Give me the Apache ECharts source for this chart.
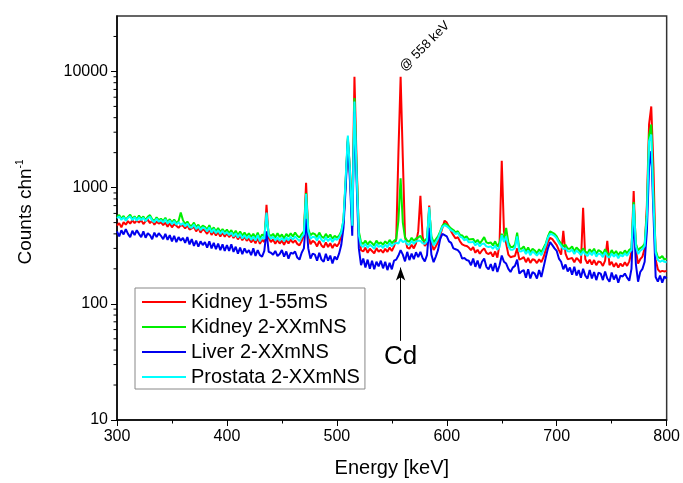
<!DOCTYPE html>
<html>
<head>
<meta charset="utf-8">
<script src="https://cdn.jsdelivr.net/npm/echarts@6/dist/echarts.min.js"></script>
<style>html,body{margin:0;padding:0;background:#fff}#c{width:683px;height:483px}</style>
</head>
<body>
<div id="c"></div>
<script>
// Spectrum channels: 300 keV start, 2 keV per channel
const energyStart = 300;
const channelWidth = 2;

const seriesNames = ['Kidney 1-55mS', 'Kidney 2-XXmNS', 'Liver 2-XXmNS', 'Prostata 2-XXmNS'];
const seriesColors = ['#ff0000', '#00ee00', '#0000ee', '#00ffff'];

const kidney1 = [
  470, 495, 455, 505, 480, 515, 490, 525, 495, 520,
  500, 525, 485, 515, 530, 495, 520, 480, 510, 490,
  505, 475, 500, 460, 495, 455, 485, 470, 450, 475,
  470, 445, 475, 435, 445, 460, 420, 450, 410, 440,
  425, 400, 440, 392, 420, 388, 415, 380, 410, 378,
  405, 375, 400, 368, 395, 358, 385, 352, 380, 348,
  365, 338, 360, 332, 370, 328, 355, 340, 710, 370,
  340, 358, 328, 355, 330, 350, 322, 355, 330, 358,
  335, 352, 328, 318, 348, 390, 1100, 400, 325, 348,
  338, 312, 348, 318, 305, 338, 308, 332, 302, 328,
  312, 332, 390, 500, 1150, 2600, 1400, 480, 9000, 1600,
  400, 290, 282, 305, 275, 298, 285, 272, 302, 280,
  292, 275, 298, 280, 305, 285, 312, 360, 2000, 9000,
  1800, 380, 305, 298, 322, 300, 332, 420, 850, 380,
  315, 332, 700, 340, 290, 312, 340, 390, 450, 520,
  500, 460, 420, 390, 365, 375, 345, 325, 318, 315,
  305, 290, 308, 275, 292, 270, 288, 300, 275, 268,
  278, 255, 282, 250, 330, 1700, 420, 330, 265, 252,
  255, 258, 300, 240, 245, 252, 228, 248, 225, 242,
  238, 224, 242, 228, 252, 290, 340, 370, 360, 340,
  320, 290, 265, 425, 270, 242, 245, 248, 228, 248,
  238, 224, 670, 242, 222, 240, 218, 238, 215, 232,
  228, 212, 235, 348, 215, 230, 208, 225, 205, 222,
  210, 228, 212, 232, 280, 935, 290, 222, 242, 255,
  300, 700, 3500, 5000, 1500, 240, 198, 188, 192, 190,
  192
];

const kidney2 = [
  560, 580, 540, 570, 528, 560, 585, 540, 565, 532,
  575, 540, 565, 525, 560, 580, 535, 515, 555, 525,
  540, 515, 550, 505, 535, 500, 530, 495, 515, 610,
  525, 485, 510, 475, 468, 500, 455, 480, 445, 470,
  460, 435, 475, 425, 455, 420, 450, 415, 440, 412,
  435, 405, 430, 395, 425, 390, 420, 385, 410, 382,
  405, 375, 400, 370, 410, 365, 395, 382, 580, 400,
  382, 400, 370, 405, 375, 395, 365, 400, 378, 405,
  380, 410, 385, 372, 398, 420, 900, 440, 388, 405,
  398, 375, 410, 380, 368, 400, 372, 395, 362, 385,
  370, 385, 420, 520, 1100, 2700, 1300, 460, 5900, 1400,
  420, 338, 328, 350, 322, 345, 332, 318, 350, 328,
  338, 322, 345, 328, 355, 332, 348, 360, 520, 1200,
  500, 372, 350, 342, 370, 348, 365, 372, 385, 352,
  348, 368, 650, 380, 338, 358, 380, 420, 470, 490,
  480, 462, 445, 432, 412, 422, 392, 388, 368, 382,
  358, 360, 362, 338, 355, 332, 350, 375, 338, 332,
  338, 318, 345, 312, 335, 400, 360, 450, 338, 308,
  308, 322, 410, 298, 298, 312, 282, 305, 278, 298,
  288, 272, 295, 278, 302, 330, 380, 420, 410, 400,
  380, 350, 330, 312, 322, 298, 298, 312, 282, 305,
  292, 278, 300, 282, 272, 295, 278, 298, 268, 290,
  282, 268, 295, 272, 262, 290, 268, 285, 262, 280,
  268, 288, 272, 292, 300, 750, 330, 288, 302, 310,
  330, 600, 2800, 3500, 800, 290, 252, 248, 258, 240,
  245
];

const liver2 = [
  420, 380, 430, 395, 440, 400, 375, 425, 390, 430,
  400, 375, 420, 370, 405, 390, 360, 410, 375, 405,
  385, 360, 400, 355, 390, 345, 385, 340, 375, 350,
  370, 335, 375, 325, 360, 315, 350, 310, 345, 320,
  340, 305, 345, 300, 335, 295, 330, 290, 325, 285,
  320, 285, 325, 280, 310, 270, 305, 268, 300, 275,
  290, 262, 300, 258, 290, 262, 255, 285, 420, 280,
  275, 265, 285, 258, 268, 290, 255, 282, 245, 275,
  270, 282, 250, 240, 275, 300, 540, 300, 245, 270,
  265, 235, 275, 240, 230, 270, 235, 260, 222, 255,
  240, 270, 320, 450, 1000, 2500, 1100, 385, 4500, 1100,
  300, 215, 245, 205, 240, 200, 235, 198, 230, 210,
  235, 202, 230, 195, 225, 198, 235, 240, 260, 290,
  265, 232, 280, 238, 270, 242, 278, 252, 280, 248,
  232, 262, 450, 265, 228, 255, 290, 360, 400, 390,
  380, 345, 335, 300, 295, 290, 275, 245, 248, 238,
  235, 215, 245, 208, 236, 202, 230, 245, 208, 198,
  220, 192, 225, 188, 215, 260, 230, 222, 200, 188,
  205, 212, 240, 182, 190, 195, 168, 198, 165, 188,
  182, 165, 195, 170, 205, 250, 300, 340, 320, 300,
  285, 245, 230, 198, 218, 190, 205, 178, 208, 175,
  195, 168, 200, 175, 165, 195, 165, 188, 160, 185,
  182, 160, 190, 165, 155, 186, 162, 178, 152, 175,
  172, 182, 168, 158, 200, 600, 220, 155, 188, 200,
  230, 420, 1500, 2060, 600, 170, 155, 175, 152, 172,
  165
];

const prostata2 = [
  545, 565, 528, 555, 520, 550, 565, 525, 555, 520,
  555, 525, 550, 515, 545, 560, 520, 505, 540, 510,
  525, 500, 535, 490, 520, 485, 515, 480, 505, 478,
  495, 465, 490, 455, 452, 480, 440, 465, 430, 455,
  445, 420, 455, 410, 440, 405, 430, 400, 425, 398,
  415, 390, 410, 380, 405, 372, 400, 365, 390, 362,
  385, 355, 380, 350, 390, 345, 375, 362, 610, 390,
  362, 378, 352, 375, 350, 370, 346, 375, 352, 378,
  356, 380, 362, 346, 375, 400, 880, 420, 362, 378,
  374, 350, 385, 356, 342, 374, 346, 368, 340, 364,
  355, 370, 410, 530, 1200, 2800, 1350, 470, 5500, 1300,
  390, 318, 308, 328, 302, 322, 312, 298, 328, 308,
  318, 302, 324, 306, 334, 312, 328, 335, 330, 360,
  340, 348, 326, 322, 348, 328, 344, 350, 348, 332,
  328, 348, 680, 360, 318, 338, 365, 410, 460, 475,
  465, 448, 428, 418, 398, 408, 378, 372, 352, 362,
  338, 338, 342, 318, 334, 312, 328, 330, 312, 308,
  312, 298, 318, 292, 308, 390, 340, 380, 312, 292,
  292, 302, 380, 282, 284, 292, 268, 288, 262, 282,
  272, 260, 278, 262, 288, 320, 370, 400, 395, 385,
  365, 335, 315, 296, 302, 283, 282, 292, 268, 288,
  277, 262, 283, 267, 258, 278, 262, 283, 255, 272,
  267, 252, 278, 257, 250, 271, 255, 268, 247, 264,
  256, 272, 259, 277, 290, 720, 315, 268, 287, 295,
  315, 560, 2500, 2860, 750, 275, 238, 230, 236, 230,
  228
];

const yMinorTickValues = [20,30,40,50,60,70,80,90,200,300,400,500,600,700,800,900,
  2000,3000,4000,5000,6000,7000,8000,9000,20000];

const peakLabel = '@ 558 keV';
const peakEnergy = 558;
const peakTop = 9000;
const cdLabel = 'Cd';
const arrowFrom = 48;
const arrowTo = 205;
const cdLabelValue = 35;

const FONT = 'Liberation Sans, Arial, sans-serif';
const allSeries = [kidney1, kidney2, liver2, prostata2];

const chart = echarts.init(document.getElementById('c'), null, {renderer: 'canvas'});

const lineSeries = allSeries.map((vals, k) => ({
  name: seriesNames[k],
  type: 'line',
  data: vals.map((v, i) => [energyStart + i * channelWidth, v]),
  showSymbol: false,
  symbol: 'none',
  color: seriesColors[k],
  lineStyle: {width: 2, color: seriesColors[k]},
  itemStyle: {color: seriesColors[k]},
  z: 2 + k,
  animation: false
}));

lineSeries[0].markLine = {
  silent: true,
  symbol: ['none', 'arrow'],
  symbolSize: [7, 13],
  label: {show: false},
  lineStyle: {color: '#000', width: 1, type: 'solid'},
  data: [[{coord: [peakEnergy, arrowFrom]}, {coord: [peakEnergy, arrowTo]}]],
  animation: false
};

const minorTickSeries = {
  type: 'custom',
  silent: true,
  clip: false,
  data: yMinorTickValues.map(v => [energyStart, v]),
  renderItem: function (params, api) {
    const p = api.coord([api.value(0), api.value(1)]);
    return {
      type: 'line',
      shape: {x1: p[0] - 3.5, y1: p[1], x2: p[0], y2: p[1]},
      style: {stroke: '#000', lineWidth: 1}
    };
  },
  z: 10,
  animation: false
};

chart.setOption({
  animation: false,
  backgroundColor: '#fff',
  textStyle: {fontFamily: FONT},
  grid: {left: 117, right: 13, top: 16, bottom: 63, show: true,
    borderColor: '#333', borderWidth: 1.5, backgroundColor: 'transparent'},
  legend: {
    data: seriesNames,
    orient: 'vertical',
    left: 135, top: 288,
    icon: 'rect',
    itemWidth: 44, itemHeight: 2, itemGap: 5,
    textStyle: {fontSize: 20, color: '#000', fontFamily: FONT, lineHeight: 20},
    borderColor: '#888', borderWidth: 1,
    padding: [4, 5, 2, 7],
    backgroundColor: '#fff',
    selectedMode: false
  },
  xAxis: {
    type: 'value', min: 300, max: 800, interval: 100,
    name: 'Energy [keV]', nameLocation: 'middle', nameGap: 38,
    nameTextStyle: {fontSize: 20, color: '#000', fontFamily: FONT},
    axisLine: {lineStyle: {color: '#000', width: 1.5}},
    axisTick: {show: true, inside: false, length: 6, lineStyle: {color: '#000', width: 1}},
    minorTick: {show: true, splitNumber: 2, length: 3.5, lineStyle: {color: '#000', width: 1}},
    axisLabel: {fontSize: 16, color: '#000', margin: 9, fontFamily: FONT},
    splitLine: {show: false}
  },
  yAxis: {
    type: 'log', logBase: 10, min: 10, max: 30000,
    name: '{a|Counts chn}{s|-1}', nameLocation: 'middle', nameGap: 80,
    nameTextStyle: {
      color: '#000', fontFamily: FONT, padding: [0, 0, 0, 12],
      rich: {
        a: {fontSize: 19, lineHeight: 22, color: '#000', fontFamily: FONT},
        s: {fontSize: 10, lineHeight: 10, verticalAlign: 'top', color: '#000', fontFamily: FONT}
      }
    },
    axisLine: {lineStyle: {color: '#000', width: 1.5}},
    axisTick: {show: true, inside: false, length: 6, lineStyle: {color: '#000', width: 1}},
    axisLabel: {fontSize: 16, color: '#000', margin: 9, fontFamily: FONT, showMaxLabel: false,
      formatter: v => String(Math.round(v))},
    splitLine: {show: false}
  },
  series: [...lineSeries, minorTickSeries]
});

const pTop = chart.convertToPixel({gridIndex: 0}, [peakEnergy, peakTop]);
const pCd = chart.convertToPixel({gridIndex: 0}, [peakEnergy, cdLabelValue]);

chart.setOption({
  graphic: [
    {
      type: 'text', x: pTop[0] + 6, y: pTop[1] - 3, rotation: Math.PI / 4,
      style: {text: peakLabel, fontSize: 13, fontFamily: FONT, fill: '#000',
        textAlign: 'left', textVerticalAlign: 'bottom'},
      z: 20
    },
    {
      type: 'text', x: pCd[0], y: pCd[1],
      style: {text: cdLabel, fontSize: 26, fontFamily: FONT, fill: '#000',
        textAlign: 'center', textVerticalAlign: 'middle'},
      z: 20
    }
  ]
});
</script>
</body>
</html>
